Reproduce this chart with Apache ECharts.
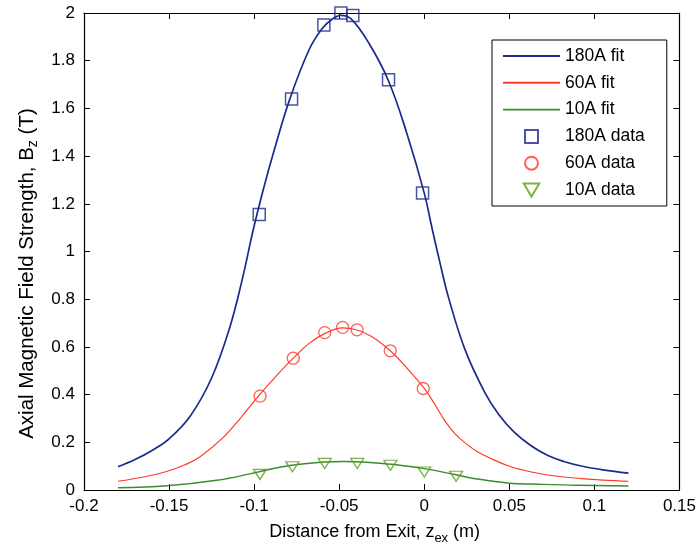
<!DOCTYPE html>
<html>
<head>
<meta charset="utf-8">
<script src="https://cdn.jsdelivr.net/npm/echarts@6/dist/echarts.min.js"></script>
<style>
html,body{margin:0;padding:0;background:#fff;}
#c{width:699px;height:550px;}
</style>
</head>
<body>
<div id="c"></div>
<script>
// ---- data ----
const xFit180 = [-0.18, -0.17, -0.16, -0.15, -0.1375, -0.125, -0.1144, -0.1066, -0.1007, -0.095, -0.088, -0.079, -0.0677, -0.06, -0.054, -0.049, -0.043, -0.0326, -0.021, -0.01, 0, 0.0045, 0.009, 0.0142, 0.024, 0.0357, 0.044, 0.053, 0.063, 0.0727, 0.082, 0.0923, 0.105, 0.12];
const yFit180 = [0.098, 0.128, 0.166, 0.215, 0.311, 0.47, 0.68, 0.895, 1.086, 1.25, 1.43, 1.64, 1.846, 1.935, 1.975, 1.99, 1.975, 1.874, 1.715, 1.49, 1.245, 1.10, 0.96, 0.809, 0.588, 0.408, 0.315, 0.242, 0.185, 0.145, 0.12, 0.101, 0.085, 0.071];

const xFit60 = [-0.18, -0.165, -0.151, -0.141, -0.1317, -0.118, -0.108, -0.0975, -0.0872, -0.077, -0.0677, -0.058, -0.048, -0.04, -0.0307, -0.02, -0.0111, 0, 0.006, 0.0123, 0.018, 0.024, 0.031, 0.0396, 0.05, 0.063, 0.077, 0.0923, 0.105, 0.12];
const yFit60 = [0.037, 0.055, 0.079, 0.105, 0.14, 0.222, 0.302, 0.394, 0.477, 0.553, 0.615, 0.658, 0.68, 0.672, 0.643, 0.584, 0.519, 0.426, 0.362, 0.288, 0.237, 0.198, 0.162, 0.131, 0.10, 0.076, 0.059, 0.0485, 0.042, 0.037];

const xFit10 = [-0.18, -0.151, -0.122, -0.1024, -0.09, -0.077, -0.0576, -0.048, -0.04, -0.0244, -0.019, 0, 0.018, 0.03, 0.049, 0.07, 0.09, 0.12];
const yFit10 = [0.010, 0.018, 0.041, 0.068, 0.088, 0.105, 0.118, 0.12, 0.119, 0.112, 0.108, 0.090, 0.065, 0.048, 0.030, 0.024, 0.020, 0.017];

const xData180 = [-0.097, -0.078, -0.059, -0.049, -0.042, -0.021, -0.001];
const yData180 = [1.155, 1.64, 1.95, 2.0, 1.99, 1.72, 1.245];
const xData60 = [-0.0965, -0.077, -0.0585, -0.048, -0.0395, -0.020, -0.0006];
const yData60 = [0.394, 0.553, 0.66, 0.682, 0.672, 0.584, 0.426];
const xData10 = [-0.0966, -0.0775, -0.0585, -0.0394, -0.0199, 0.0, 0.0187];
const yData10 = [0.066, 0.098, 0.112, 0.112, 0.104, 0.076, 0.058];

const seriesNames = ['180A fit', '60A fit', '10A fit', '180A data', '60A data', '10A data'];
const xTitle = 'Distance from Exit, z';
const xTitleSub = 'ex';
const yTitle = 'Axial Magnetic Field Strength, B';
const yTitleSub = 'z';

// ---- build ----
const zip = (xs, ys) => xs.map((x, i) => [x, ys[i]]);
const FONT = '"Liberation Sans", Arial, sans-serif';
const C_BLUE = '#1b2a8c', C_RED = '#ff3a2a', C_GREEN = '#3a8c30', C_TRI = '#5a9e1a';
const downTri = 'path://M0,0 L12,0 L6,10 Z';
const lineIcon = 'path://M0,0 H60 V2 H0 Z';
const squareIcon = 'path://M0,0 H10 V10 H0 Z';

const chart = echarts.init(document.getElementById('c'), null, {renderer: 'canvas'});

const tickCommon = {show: true, inside: true, length: 6, lineStyle: {color: '#000', width: 1}};
const lineCommon = {show: true, onZero: false, lineStyle: {color: '#000', width: 1.2}};

chart.setOption({
  backgroundColor: '#fff',
  animation: false,
  grid: {left: 84, right: 17, top: 13, bottom: 55, containLabel: false},
  xAxis: [{
    type: 'value', min: -0.2, max: 0.15, interval: 0.05,
    axisLine: lineCommon, axisTick: tickCommon, splitLine: {show: false},
    axisLabel: {color: '#000', fontFamily: FONT, fontSize: 17, margin: 8},
    name: '{m|' + xTitle + '}{s|' + xTitleSub + '}{m| (m)}',
    nameLocation: 'middle', nameGap: 27,
    nameTextStyle: {
      padding: [0, 14, 0, 0],
      rich: {
        m: {fontFamily: FONT, fontSize: 18, color: '#000', lineHeight: 20},
        s: {fontFamily: FONT, fontSize: 13, color: '#000', lineHeight: 13, padding: [12, 0, 0, 0]}
      }
    }
  }, {
    type: 'value', position: 'top', min: -0.2, max: 0.15, interval: 0.05,
    axisLine: lineCommon, axisTick: tickCommon, splitLine: {show: false},
    axisLabel: {show: false}
  }],
  yAxis: [{
    type: 'value', min: 0, max: 2, interval: 0.2,
    axisLine: lineCommon, axisTick: tickCommon, splitLine: {show: false},
    axisLabel: {color: '#000', fontFamily: FONT, fontSize: 17, margin: 9},
    name: '{m|' + yTitle + '}{s|' + yTitleSub + '}{m| (T)}',
    nameLocation: 'middle', nameGap: 45, nameRotate: 90,
    nameTextStyle: {
      padding: [0, 44, 0, 0],
      rich: {
        m: {fontFamily: FONT, fontSize: 20.5, color: '#000', lineHeight: 22},
        s: {fontFamily: FONT, fontSize: 14, color: '#000', lineHeight: 14, padding: [13, 0, 0, 0]}
      }
    }
  }, {
    type: 'value', position: 'right', min: 0, max: 2, interval: 0.2,
    axisLine: lineCommon, axisTick: tickCommon, splitLine: {show: false},
    axisLabel: {show: false}
  }],
  legend: {
    orient: 'vertical', left: 492, top: 40,
    selectedMode: false,
    backgroundColor: '#fff', borderColor: '#000', borderWidth: 1,
    padding: [6, 22, 6, 11],
    itemWidth: 57, itemHeight: 13, itemGap: 6.8,
    textStyle: {fontFamily: FONT, fontSize: 17.5, color: '#000', lineHeight: 20},
    data: [
      {name: seriesNames[0], icon: lineIcon},
      {name: seriesNames[1], icon: lineIcon},
      {name: seriesNames[2], icon: lineIcon},
      {name: seriesNames[3], icon: squareIcon},
      {name: seriesNames[4], icon: 'circle'},
      {name: seriesNames[5], icon: downTri}
    ]
  },
  series: [
    {name: seriesNames[0], type: 'line', data: zip(xFit180, yFit180), showSymbol: false, symbol: 'none', smooth: 0.4,
     lineStyle: {color: C_BLUE, width: 1.7}, itemStyle: {color: C_BLUE}, z: 3},
    {name: seriesNames[1], type: 'line', data: zip(xFit60, yFit60), showSymbol: false, symbol: 'none', smooth: 0.4,
     lineStyle: {color: C_RED, width: 1.2}, itemStyle: {color: C_RED}, z: 3},
    {name: seriesNames[2], type: 'line', data: zip(xFit10, yFit10), showSymbol: false, symbol: 'none', smooth: 0.4,
     lineStyle: {color: C_GREEN, width: 1.5}, itemStyle: {color: C_GREEN}, z: 3},
    {name: seriesNames[3], type: 'scatter', data: zip(xData180, yData180), symbol: squareIcon, symbolSize: 12,
     itemStyle: {color: 'rgba(255,255,255,0)', borderColor: C_BLUE, borderWidth: 1.5}, z: 4},
    {name: seriesNames[4], type: 'scatter', data: zip(xData60, yData60), symbol: 'circle', symbolSize: 12,
     itemStyle: {color: 'rgba(255,255,255,0)', borderColor: C_RED, borderWidth: 1.3}, z: 4},
    {name: seriesNames[5], type: 'scatter', data: zip(xData10, yData10), symbol: downTri, symbolSize: [13, 10],
     itemStyle: {color: 'rgba(255,255,255,0)', borderColor: C_TRI, borderWidth: 1.3}, z: 4}
  ]
});
</script>
</body>
</html>
